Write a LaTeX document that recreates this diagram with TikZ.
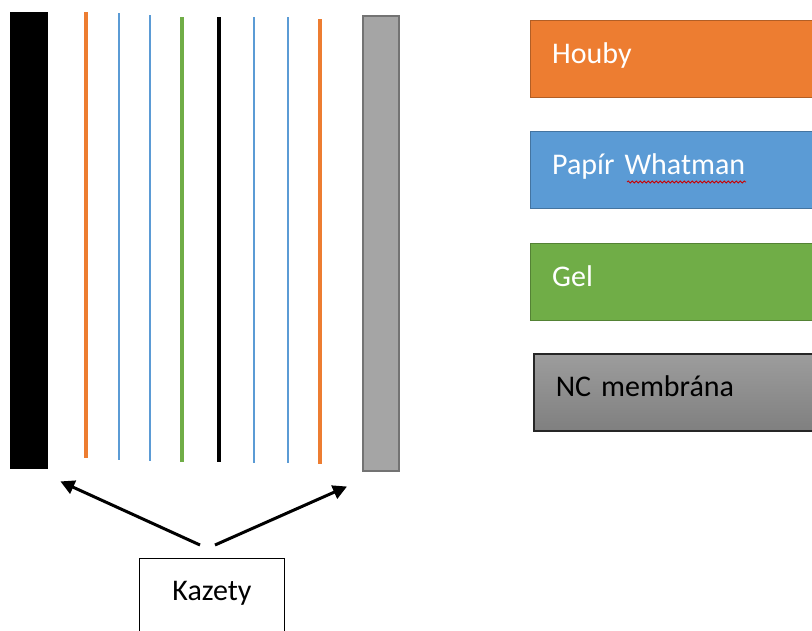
\documentclass[tikz,border=0pt]{standalone}
\usepackage{fontspec}
\setmainfont{Carlito}
\usepackage{tikz}
\usetikzlibrary{arrows.meta, positioning, decorations.pathmorphing}
\definecolor{oranzova}{RGB}{237,125,49}
\definecolor{modra}{RGB}{91,155,213}
\definecolor{zelena}{RGB}{112,173,71}
\definecolor{seda}{RGB}{165,165,165}

\begin{document}
\begin{tikzpicture}[x=1pt, y=-1pt,
      vrstva/.style={draw=#1!75!black, fill=#1, anchor=north west,
                     minimum width=300pt, minimum height=77pt,
                     text width=256pt, inner xsep=22pt, align=left,
                     text height=20pt, text depth=11pt,
                     text=white, font=\fontsize{30}{32}\selectfont},
      kazeta/.style={inner sep=0pt, anchor=north west, minimum width=#1},
      sipka/.style={line width=3pt, -{Triangle[length=14pt, width=14pt]}},
      >=Stealth]
    \clip (0,0) rectangle (812,630);
    \fill[white] (0,0) rectangle (812,630);
    % kazety po stranach
    \node[kazeta=38pt, fill=black, minimum height=457pt] (cassL) at (10,12) {};
    \node[kazeta=36pt, fill=seda, draw=black!55, line width=1.5pt,
          minimum height=455pt] (cassR) at (362,15) {};
    % jednotlive vrstvy sendvice
    \foreach \x/\c/\w/\t/\b in {86/oranzova/3.5/12/458, 119/modra/2.2/13/460,
        150/modra/2.2/15/461, 182/zelena/3.8/17/462, 219/black/3.5/17/462,
        254/modra/2.2/17/463, 288/modra/2.2/17/463, 320/oranzova/3.5/19/464}
      \draw[\c, line width=\w pt] (\x,\t) -- (\x,\b);
    % legenda
    \node[vrstva=oranzova] (houby) at (530,20) {Houby};
    \node[vrstva=modra] (papir) at (530,131) {Papír Whatman};
    \node[vrstva=zelena] (gel) at (530,243) {Gel};
    \node[vrstva=seda, top color=seda!95!black, bottom color=black!50,
          draw=black!85, line width=1.5pt, text=black] (nc) at (533,353)
          {NC membrána};
    \draw[red!80!black, line width=0.8pt, decorate,
          decoration={snake, amplitude=1pt, segment length=4pt}]
      (627,182) -- (746,182);
    % popisek dole
    \node[draw, line width=1pt, minimum width=145pt, anchor=north,
          inner ysep=22pt, text height=20pt, text depth=50pt,
          font=\fontsize{30}{32}\selectfont] (kazety) at (212,558) {Kazety};
    \coordinate (srcL) at ([xshift=-12pt, yshift=13pt]kazety.north);
    \coordinate (srcR) at ([xshift=3pt, yshift=13pt]kazety.north);
    \coordinate (tipL) at ([xshift=12pt, yshift=-12pt]cassL.south east);
    \coordinate (tipR) at ([xshift=-15pt, yshift=-15pt]cassR.south west);
    \draw[sipka] (srcL) -- (tipL);
    \draw[sipka] (srcR) -- (tipR);
  \end{tikzpicture}
\end{document}
